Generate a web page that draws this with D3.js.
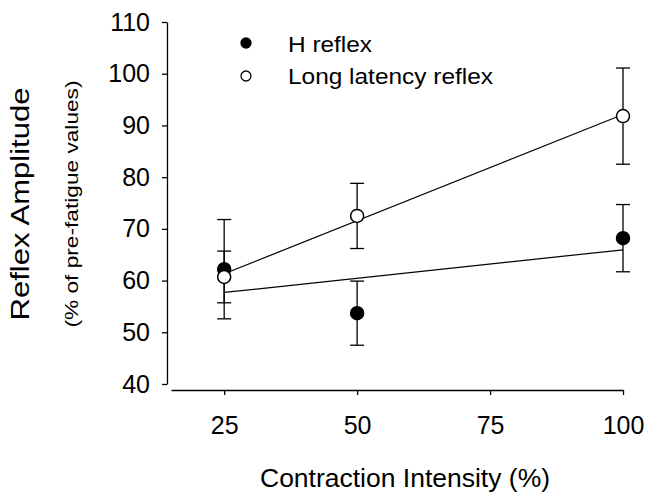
<!DOCTYPE html>
<html lang="en">
<head>
	<meta charset="UTF-8">
	<title>Reflex Amplitude vs Contraction Intensity</title>
	<script src="https://d3js.org/d3.v7.min.js"></script>
	<style>
		body, html {
			margin: 0;
			padding: 0;
			background: #fff;
			overflow: hidden;
		}
		svg {
			display: block;
			font-family: "Liberation Sans", Arial, sans-serif;
		}
		.axis path, .axis line {
			stroke: #000;
			stroke-width: 1.3;
		}
		.axis text {
			font-size: 25px;
			fill: #000;
		}
	</style>
</head>
<body>
<div id="chart"></div>
	<script>
		// Data
		const intensity = [25, 50, 100];
		const hReflex = [62.2, 53.7, 68.2];
		const hReflexErr = [9.6, 6.2, 6.5];
		const longLatency = [60.7, 72.5, 91.8];
		const longLatencyErr = [5.0, 6.3, 9.3];
		const xTicks = [25, 50, 75, 100];
		const yTicks = [40, 50, 60, 70, 80, 90, 100, 110];
		const seriesNames = ["H reflex", "Long latency reflex"];

		const width = 650;
		const height = 494;

		const svg = d3.select("#chart")
			.append("svg")
			.attr("width", width)
			.attr("height", height);

		const x = d3.scaleLinear().domain([15, 100]).range([171, 623]);
		const y = d3.scaleLinear().domain([40, 110]).range([384, 22]);

		// y axis (detached from x axis)
		svg.append("g")
			.attr("class", "axis")
			.attr("transform", "translate(167,0)")
			.call(d3.axisLeft(y).tickValues(yTicks).tickSize(5).tickSizeOuter(0).tickPadding(12));

		// x axis
		svg.append("g")
			.attr("class", "axis")
			.attr("transform", "translate(0,390)")
			.call(d3.axisBottom(x).tickValues(xTicks).tickSize(5).tickSizeOuter(0).tickPadding(21));

		// least squares fit line for a series
		function fit(xs, ys) {
			const mx = d3.mean(xs), my = d3.mean(ys);
			let sxy = 0, sxx = 0;
			xs.forEach((v, i) => {
				sxy += (v - mx) * (ys[i] - my);
				sxx += (v - mx) * (v - mx);
			});
			const b = sxy / sxx;
			const a = my - b * mx;
			const x0 = d3.min(xs), x1 = d3.max(xs);
			return [[x0, a + b * x0], [x1, a + b * x1]];
		}

		const series = [
			{ vals: hReflex, err: hReflexErr, fill: "#000" },
			{ vals: longLatency, err: longLatencyErr, fill: "#fff" }
		];

		const cap = 7;

		// error bars
		series.forEach(s => {
			const g = svg.append("g").attr("stroke", "#000").attr("stroke-width", 1.3);
			intensity.forEach((xv, i) => {
				const top = y(s.vals[i] + s.err[i]);
				const bot = y(s.vals[i] - s.err[i]);
				g.append("line").attr("x1", x(xv)).attr("x2", x(xv)).attr("y1", top).attr("y2", bot);
				g.append("line").attr("x1", x(xv) - cap).attr("x2", x(xv) + cap).attr("y1", top).attr("y2", top);
				g.append("line").attr("x1", x(xv) - cap).attr("x2", x(xv) + cap).attr("y1", bot).attr("y2", bot);
			});
		});

		// regression lines
		const line = d3.line().x(d => x(d[0])).y(d => y(d[1]));
		series.forEach(s => {
			svg.append("path")
				.attr("d", line(fit(intensity, s.vals)))
				.attr("fill", "none")
				.attr("stroke", "#000")
				.attr("stroke-width", 1.2);
		});

		// markers
		series.forEach(s => {
			svg.selectAll(null)
				.data(intensity)
				.enter()
				.append("circle")
				.attr("cx", d => x(d))
				.attr("cy", (d, i) => y(s.vals[i]))
				.attr("r", 6.5)
				.attr("fill", s.fill)
				.attr("stroke", "#000")
				.attr("stroke-width", 1.5);
		});

		// legend
		const legend = svg.append("g");
		seriesNames.forEach((name, i) => {
			legend.append("circle")
				.attr("cx", 246)
				.attr("cy", 43 + i * 33)
				.attr("r", 5)
				.attr("fill", series[i].fill)
				.attr("stroke", "#000")
				.attr("stroke-width", 1.3);
			legend.append("text")
				.attr("x", 288)
				.attr("y", 52 + i * 32)
				.attr("font-size", 22)
				.attr("textLength", i === 0 ? 84 : 205)
				.attr("lengthAdjust", "spacingAndGlyphs")
				.text(name);
		});

		// axis titles
		svg.append("text")
			.attr("x", 405)
			.attr("y", 487)
			.attr("text-anchor", "middle")
			.attr("font-size", 25)
			.attr("textLength", 290)
			.attr("lengthAdjust", "spacingAndGlyphs")
			.text("Contraction Intensity (%)");

		svg.append("text")
			.attr("transform", "translate(29,204) rotate(-90)")
			.attr("text-anchor", "middle")
			.attr("font-size", 25)
			.attr("textLength", 233)
			.attr("lengthAdjust", "spacingAndGlyphs")
			.text("Reflex Amplitude");

		svg.append("text")
			.attr("transform", "translate(78,204) rotate(-90)")
			.attr("text-anchor", "middle")
			.attr("font-size", 19)
			.attr("textLength", 247)
			.attr("lengthAdjust", "spacingAndGlyphs")
			.text("(% of pre-fatigue values)");
	</script>
</body>
</html>
